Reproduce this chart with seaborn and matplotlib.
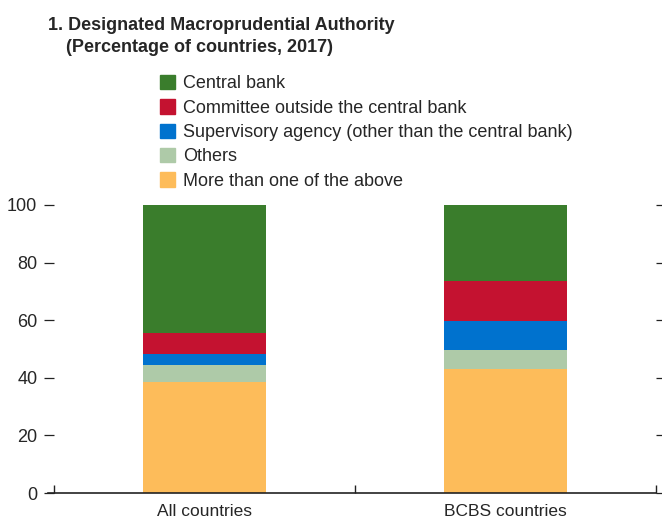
import matplotlib
matplotlib.use("Agg")
import matplotlib.pyplot as plt
import matplotlib.patches as mpatches
from matplotlib import font_manager
import seaborn as sns
import pandas as pd
import numpy as np

categories = ["All countries", "BCBS countries"]
series_names = ["Central bank", "Committee outside the central bank",
                "Supervisory agency (other than the central bank)", "Others",
                "More than one of the above"]
central_bank = [44.6, 26.3]
committee = [7.0, 14.1]
supervisory = [4.1, 9.8]
others = [5.6, 6.9]
more_than_one = [38.7, 42.9]
y_ticks = [0, 20, 40, 60, 80, 100]

colors = {"Central bank": "#3A7D2C",
          "Committee outside the central bank": "#C41230",
          "Supervisory agency (other than the central bank)": "#0072CE",
          "Others": "#AECAA8",
          "More than one of the above": "#FDBC5A"}

sns.set_theme(style="white")
names = {f.name for f in font_manager.fontManager.ttflist}
narrow = "Liberation Sans Narrow" if "Liberation Sans Narrow" in names else "Liberation Sans"
plt.rcParams["font.family"] = [narrow, "DejaVu Sans"]

fig = plt.figure(figsize=(6.62, 5.2), dpi=100)
ax = fig.add_axes([54/662, 1-493/520, (656-54)/662, (493-205)/520])

# stacked: draw cumulative totals from top layer down
layers_bottom_up = [more_than_one, others, supervisory, committee, central_bank]
names_bottom_up = series_names[::-1]
cum = np.cumsum(np.array(layers_bottom_up), axis=0)
for i in range(len(layers_bottom_up) - 1, -1, -1):
    df = pd.DataFrame({"cat": categories, "val": cum[i]})
    sns.barplot(data=df, x="cat", y="val", color=colors[names_bottom_up[i]],
                width=0.41, saturation=1, ax=ax, linewidth=0)

ax.set_xlim(-0.5, 1.5)
ax.set_ylim(0, 100)
ax.set_yticks(y_ticks)
ax.set_xlabel("")
ax.set_ylabel("")
for s in ["top", "left", "right"]:
    ax.spines[s].set_visible(False)
ax.spines["bottom"].set_color("#222222")
ax.spines["bottom"].set_linewidth(1.2)
ax.tick_params(axis="y", which="both", left=True, right=True, direction="out",
               length=7, width=0.9, color="#222222", labelsize=13, pad=5)
ax.tick_params(axis="x", which="major", bottom=False, labelsize=12.5, pad=2)
ax.set_xticks([-0.5, 0.5, 1.5], minor=True)
ax.tick_params(axis="x", which="minor", bottom=True, direction="in", length=6,
               width=1, color="#222222")
ax.spines["bottom"].set_bounds(-0.52, 1.5)

fig.text(48/662, 1-25/520, "1. Designated Macroprudential Authority",
         fontsize=13, fontweight="bold", va="center", ha="left")
fig.text(66/662, 1-47/520, "(Percentage of countries, 2017)",
         fontsize=13, fontweight="bold", va="center", ha="left")

handles = [mpatches.Patch(color=colors[n], label=n) for n in series_names]
fig.legend(handles=handles, loc="upper left", bbox_to_anchor=(160/662, 1-75/520),
           frameon=False, fontsize=13, handlelength=0.85, handleheight=0.85,
           handletextpad=0.45, labelspacing=0.38, borderaxespad=0, borderpad=0)

fig.savefig("out.png", dpi=100)
